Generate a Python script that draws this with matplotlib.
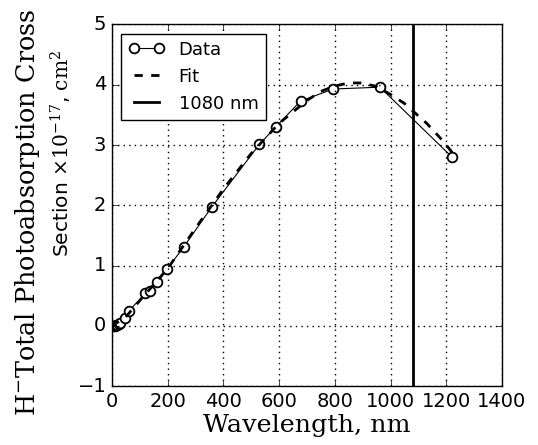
import matplotlib
matplotlib.use("Agg")
import matplotlib.pyplot as plt

plt.style.use('classic')
plt.rcParams['mathtext.fontset'] = 'dejavuserif'
plt.rcParams['font.family'] = ['DejaVu Sans']

# Data (wavelength nm, cross section x1e-17 cm^2)
data_wl = [5, 10, 15, 20, 25, 30, 47, 60, 120, 137, 163, 198, 257, 358, 529, 588, 677, 795, 962, 1221]
data_sigma = [0.0, 0.005, 0.01, 0.02, 0.03, 0.05, 0.13, 0.245, 0.54, 0.585, 0.725, 0.945, 1.305, 1.97, 3.01, 3.30, 3.73, 3.93, 3.96, 2.80]

fit_wl = [0, 50, 100, 200, 300, 400, 500, 600, 700, 750, 800, 850, 900, 950, 1000, 1050, 1130, 1190, 1221]
fit_sigma = [0.0, 0.15, 0.42, 0.95, 1.62, 2.27, 2.86, 3.36, 3.74, 3.89, 3.98, 4.03, 4.03, 3.97, 3.84, 3.69, 3.36, 3.06, 2.88]

laser_wl = 1080

fig = plt.figure(figsize=(5.38, 4.45), dpi=100, facecolor='white')
ax = fig.add_axes([0.208, 0.132, 0.725, 0.813])

ax.plot(data_wl, data_sigma, '-', color='k', lw=0.8, marker='o', ms=7,
        mfc='white', mec='k', mew=1.3, label='Data')
ax.plot(fit_wl, fit_sigma, '--', color='k', lw=2, label='Fit')
ax.axvline(laser_wl, color='k', lw=2, label='1080 nm')

ax.set_xlim(0, 1400)
ax.set_ylim(-1, 5)
ax.grid(True, color='k', linestyle=':', lw=1)
ax.tick_params(labelsize=14)

ax.set_xlabel('Wavelength, nm', fontsize=18.3, family='DejaVu Serif', labelpad=2)

# Two-line y label (first line serif, second line mixed)
fig.text(28 / 538, 1 - 212 / 445, r'H$^{-}$Total Photoabsorption Cross',
         rotation=90, ha='center', va='center', fontsize=18.4, family='DejaVu Serif')
fig.text(61 / 538, 1 - 153 / 445, r'Section $\times 10^{-17}$, $\mathrm{cm}^2$',
         rotation=90, ha='center', va='center', fontsize=14.5)

leg = ax.legend(loc='upper left', fontsize=13, numpoints=2, handlelength=2.0)
leg.get_frame().set_linewidth(1)

fig.savefig('out.png', dpi=100, facecolor='white')
